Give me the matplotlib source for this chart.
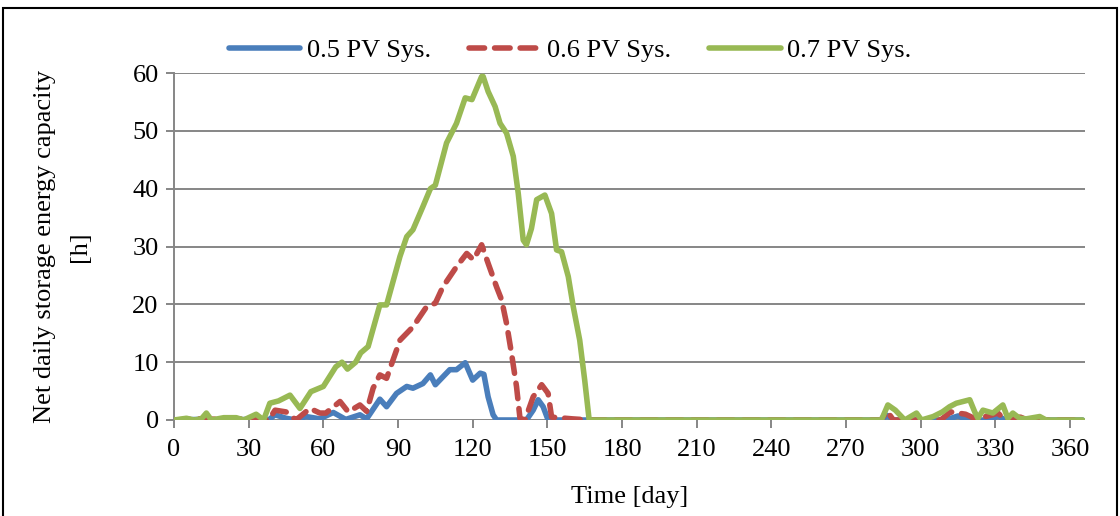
import numpy as np
import matplotlib
matplotlib.use('Agg')
import matplotlib.pyplot as plt
from matplotlib.patches import Rectangle

plt.rcParams['font.family'] = ['Liberation Serif', 'DejaVu Serif']

# values (day, net daily storage capacity [h])
days_05 = [0, 10, 20, 30, 38, 40.6, 45, 49, 53, 58.6, 64, 69, 74.7, 77.4, 82.7, 85.4, 89.4,
           93.5, 96, 100, 103, 105, 110.8, 113.5, 117, 120, 123, 124.5, 126.2, 128.2, 129.6,
           141.6, 144.3, 146.3, 148.3, 150.3, 284, 286.5, 289, 310, 315, 319, 328, 331, 334, 365]
vals_05 = [0, 0.1, 0, 0.1, 0, 0.9, 0.3, 0, 0.6, 0.2, 1.3, 0.1, 0.9, 0.2, 3.6, 2.3, 4.6,
           5.8, 5.5, 6.3, 7.8, 6.1, 8.7, 8.7, 9.9, 6.9, 8.1, 7.9, 4.0, 0.9, 0,
           0, 1.7, 3.5, 2.3, 0, 0, 0.8, 0, 0, 0.7, 0, 0, 0.7, 0, 0]

days_06 = [0, 10, 20, 30, 38, 40.6, 45, 49, 54.6, 58.6, 61, 66.7, 70, 74.7, 77.4, 80, 82.7,
           85.4, 90.8, 96, 101.5, 105, 108, 113.5, 117.6, 120.3, 123.6, 126.2, 129.6, 131.6,
           133.6, 135.6, 137.6, 139, 141, 144.3, 147.7, 150.3, 151.7, 160, 167, 284, 286.5,
           289, 308, 312, 318, 322, 328, 331, 334, 340, 343, 365]
vals_06 = [0, 0.2, 0.1, 0.2, 0, 1.7, 1.4, 0, 2.0, 1.2, 1.2, 3.2, 1.4, 2.6, 1.5, 5.5, 7.8,
           7.2, 13.8, 16.1, 19.6, 20.2, 23.0, 26.5, 28.8, 27.7, 30.3, 27.1, 23.0, 20.8,
           16.7, 11.5, 5.8, 0.3, 0, 4.0, 6.1, 4.6, 0.5, 0.2, 0, 0, 1.5, 0, 0, 1.4, 1.0,
           0.2, 0.8, 1.2, 0, 0.5, 0, 0]

days_07 = [0, 5, 8, 11, 13, 15, 20, 25, 28, 33, 36, 38.5, 42, 46.6, 50.6, 55, 60, 65,
           67.5, 69.7, 73, 75, 78, 82.7, 85.4, 90.8, 93.5, 96, 100, 103, 105, 109.5,
           113.5, 117, 119.7, 123.6, 124.2, 126.2, 129, 131, 133.6, 136.3, 138.3, 140.3,
           141.6, 143.6, 145.7, 149, 151.7, 153.7, 155.7, 158.4, 160.4, 163, 165, 166.8,
           284.2, 286.8, 289.8, 293.6, 298.3, 300.3, 305, 308.7, 311.6, 314.3, 319.7,
           321.7, 323, 325, 329, 333, 335, 337, 339.7, 342.4, 347.8, 350.4, 365]
vals_07 = [0, 0.3, 0, 0.2, 1.2, 0, 0.4, 0.4, 0, 1.0, 0, 2.9, 3.3, 4.3, 2.0, 4.9, 5.8, 9.2,
           10.0, 8.8, 10.0, 11.6, 12.7, 19.9, 19.9, 28.3, 31.7, 32.9, 36.9, 40.0, 40.6,
           47.9, 51.3, 55.7, 55.4, 59.4, 59.4, 56.8, 54.2, 51.3, 49.6, 45.6, 39.2, 31.1,
           30.3, 33.1, 38.1, 38.9, 35.7, 29.4, 29.1, 24.8, 19.6, 13.8, 6.9, 0,
           0, 2.6, 1.7, 0, 1.2, 0, 0.6, 1.4, 2.3, 2.9, 3.5,
           1.4, 0.3, 1.7, 1.2, 2.6, 0.3, 1.2, 0.3, 0.2, 0.6, 0, 0]

series_labels = ['0.5 PV Sys.', '0.6 PV Sys.', '0.7 PV Sys.']
series_colors = ['#4a7ebb', '#be4b48', '#98b954']

xticks = np.arange(0, 361, 30)
yticks = np.arange(0, 61, 10)

fig = plt.figure(figsize=(11.2, 5.16), dpi=100)
ax = fig.add_axes([174/1120, 1 - 420/516, (1085 - 174)/1120, (420 - 73)/516])

ax.plot(days_05, vals_05, color=series_colors[0], linewidth=4.0, label=series_labels[0],
        solid_capstyle='round', solid_joinstyle='round', zorder=3)
ax.plot(days_06, vals_06, color=series_colors[1], linewidth=4.0, label=series_labels[1],
        dashes=(2.8, 1.8), dash_capstyle='round', dash_joinstyle='round', zorder=4)
ax.plot(days_07, vals_07, color=series_colors[2], linewidth=4.0, label=series_labels[2],
        solid_capstyle='round', solid_joinstyle='round', zorder=5)

ax.set_xlim(0, 366)
ax.set_ylim(0, 60)
ax.set_xticks(xticks)
ax.set_yticks(yticks)
ax.yaxis.grid(True, color='#868686', linewidth=1.4)
ax.set_axisbelow(True)
for s in ['top', 'right', 'bottom']:
    ax.spines[s].set_visible(False)
ax.spines['left'].set_color('#868686')
ax.spines['left'].set_linewidth(1.4)
ax.tick_params(axis='both', colors='#868686', width=1.4, length=6, labelsize=19,
               labelcolor='black')
ax.tick_params(axis='x', pad=8)
ax.tick_params(axis='y', pad=5)

ax.set_xlabel('Time [day]', fontsize=19, labelpad=18)
ax.set_ylabel('Net daily storage energy capacity\n[h]', fontsize=19, labelpad=30,
              linespacing=1.75)

ax.legend(loc='lower center', bbox_to_anchor=(0.435, 1.0), ncol=3, frameon=False,
          fontsize=19, handlelength=2.7, handletextpad=0.25, columnspacing=1.45,
          borderaxespad=0.0)

fig.patches.append(Rectangle((3/1120, -0.05), 1114/1120, 1 - 8/516 + 0.05,
                             transform=fig.transFigure, fill=False, edgecolor='black',
                             linewidth=1.5))

fig.savefig('out.png', dpi=100)
